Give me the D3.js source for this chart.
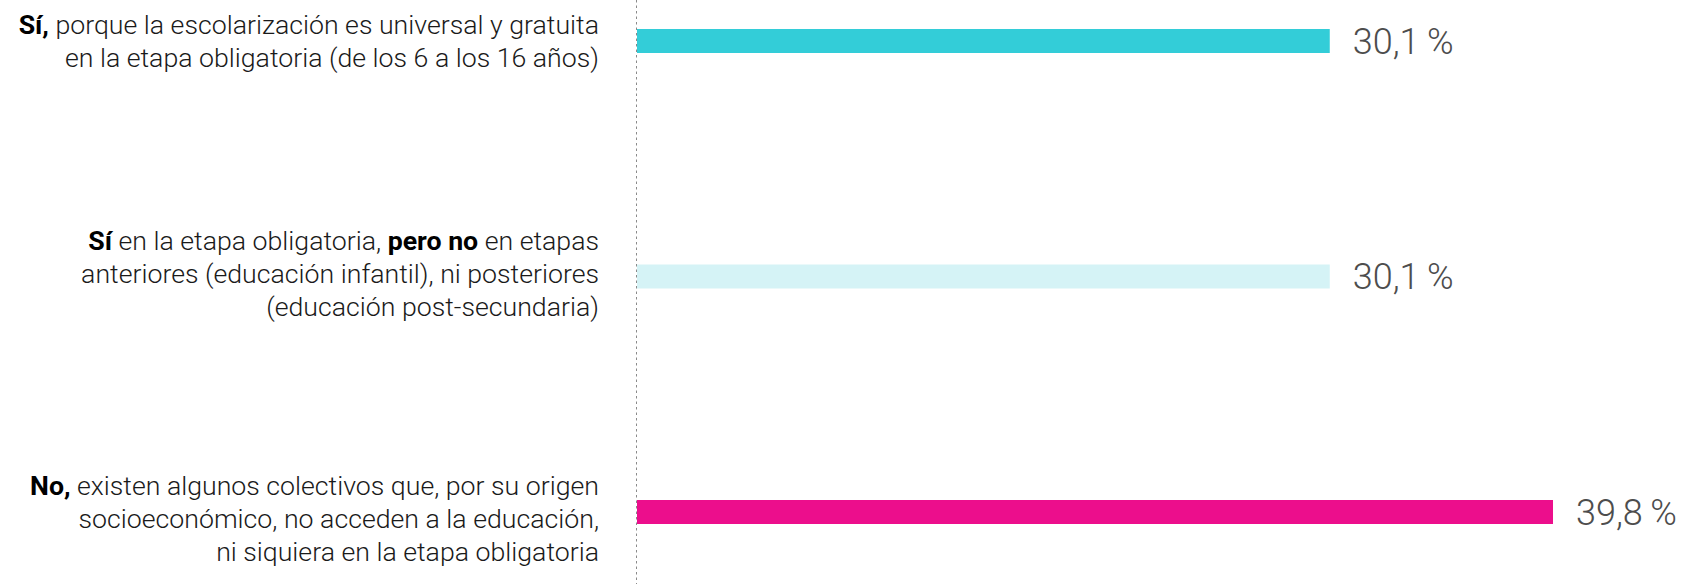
<!DOCTYPE html>
<html>
<head>
<meta charset="utf-8">
<script src="https://cdn.jsdelivr.net/npm/d3@7"></script>
<style>
  html, body { margin: 0; padding: 0; background: #fff; }
  svg { display: block; font-family: Roboto, "Noto Sans", sans-serif; }
</style>
</head>
<body>
<svg id="chart" width="1681" height="584"></svg>
<script>
// ---- data ----
const categories = ["si_universal", "si_obligatoria", "no_colectivos"];
const values = [30.1, 30.1, 39.8];
const colors = ["#33cdd8", "#d5f3f6", "#ec0e8c"];
// label lines: each line is a list of [text, bold]
const labelLines = [
  [
    [["Sí,", true], [" porque la escolarización es universal y gratuita", false]],
    [["en la etapa obligatoria (de los 6 a los 16 años)", false]]
  ],
  [
    [["Sí", true], [" en la etapa obligatoria, ", false], ["pero no", true], [" en etapas", false]],
    [["anteriores (educación infantil), ni posteriores", false]],
    [["(educación post-secundaria)", false]]
  ],
  [
    [["No,", true], [" existen algunos colectivos que, por su origen", false]],
    [["socioeconómico, no acceden a la educación,", false]],
    [["ni siquiera en la etapa obligatoria", false]]
  ]
];

// ---- layout ----
const W = 1681, H = 584;
const axisX = 637;
const labelRight = 599;
const barH = 24;
const lineH = 33;
const labelFont = 26.7;
const labelShift = [0, -2.8, 7]; // vertical nudge of each label block

const svg = d3.select("#chart");

const x = d3.scaleLinear().domain([0, d3.max(values)]).range([axisX, 1553]);
const y = d3.scalePoint().domain(categories).range([41, 512]);

const locale = d3.formatLocale({decimal: ",", thousands: ".", grouping: [3], currency: ["", " €"]});
const fmt = locale.format(".1f");

// dashed baseline
svg.append("line")
  .attr("x1", axisX - 0.5).attr("x2", axisX - 0.5)
  .attr("y1", 0).attr("y2", H)
  .attr("stroke", "#8a8a8a")
  .attr("stroke-width", 1)
  .attr("stroke-dasharray", "2.5,3");

// bars
svg.append("g").selectAll("rect")
  .data(categories)
  .join("rect")
  .attr("x", x(0))
  .attr("y", d => y(d) - barH / 2)
  .attr("width", (d, i) => x(values[i]) - x(0))
  .attr("height", barH)
  .attr("fill", (d, i) => colors[i]);

// value labels
svg.append("g").selectAll("text")
  .data(categories)
  .join("text")
  .attr("x", (d, i) => x(values[i]) + 23)
  .attr("y", d => y(d) + 12.8)
  .attr("font-size", 36)
  .attr("font-weight", 300)
  .attr("fill", "#4d4d4d")
  .text((d, i) => fmt(values[i]) + "\u2009%");

// category labels
const lg = svg.append("g");
categories.forEach((c, i) => {
  const lines = labelLines[i];
  const n = lines.length;
  const t = lg.append("text")
    .attr("text-anchor", "end")
    .attr("font-size", labelFont)
    .attr("font-weight", 300)
    .attr("fill", "#1a1a1a");
  lines.forEach((line, j) => {
    const by = y(c) - (n - 1) * lineH / 2 + labelFont * 0.355 + labelShift[i] + j * lineH;
    line.forEach((seg, k) => {
      const ts = t.append("tspan")
        .attr("font-weight", seg[1] ? 700 : 300)
        .attr("fill", seg[1] ? "#000" : "#1a1a1a")
        .text(seg[0]);
      if (k === 0) ts.attr("x", labelRight).attr("y", by);
    });
  });
});
</script>
</body>
</html>
